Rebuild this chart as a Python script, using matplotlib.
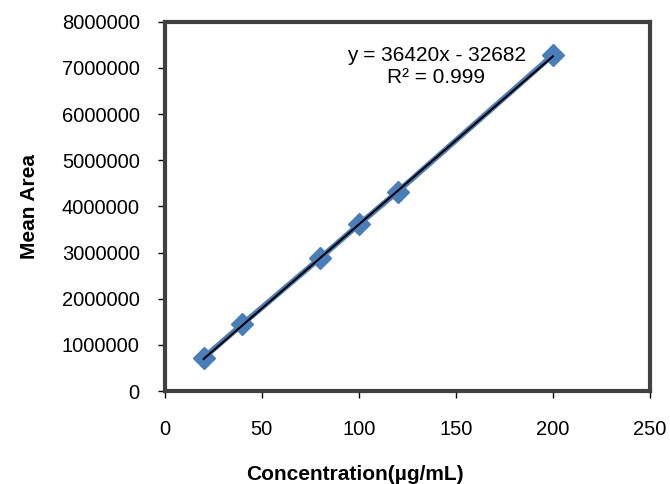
import numpy as np
import matplotlib
matplotlib.use("Agg")
import matplotlib.pyplot as plt

plt.rcParams['font.family'] = ['Liberation Sans', 'DejaVu Sans']

conc = [20, 40, 80, 100, 120, 200]
area = [720000, 1450000, 2880000, 3610000, 4320000, 7280000]
slope = 36420
intercept = -32682
eq_text = "y = 36420x - 32682\nR² = 0.999"

fig = plt.figure(figsize=(6.7, 4.84), dpi=100)
ax = fig.add_axes([0.246, 0.192, 0.724, 0.763])

blue = '#4a7ebb'
ax.plot(conc, area, color=blue, linewidth=4, marker='D', markersize=11,
        markerfacecolor=blue, markeredgecolor=blue, zorder=2)
xf = np.array([min(conc), max(conc)])
ax.plot(xf, slope * xf + intercept, color='black', linewidth=1.5, zorder=3)

ax.text(140, 7030000, eq_text, ha='center', va='center', fontsize=15)

ax.set_xlim(0, 250)
ax.set_ylim(0, 8000000)
ax.set_xticks(np.arange(0, 251, 50))
ax.set_yticks(np.arange(0, 8000001, 1000000))
ax.set_yticklabels([str(v) for v in range(0, 8000001, 1000000)])
for s in ax.spines.values():
    s.set_linewidth(3)
    s.set_color('#404040')
ax.tick_params(direction='out', length=5, width=1, colors='black',
               labelsize=14.5, pad=13)
ax.tick_params(axis='x', pad=16)

ax.set_xlabel('Concentration(µg/mL)', fontsize=15, fontweight='bold')
ax.set_ylabel('Mean Area', fontsize=15, fontweight='bold')
ax.xaxis.set_label_coords(0.392, -0.2)
ax.yaxis.set_label_coords(-0.26, 0.5)

fig.savefig('out.png', dpi=100)
